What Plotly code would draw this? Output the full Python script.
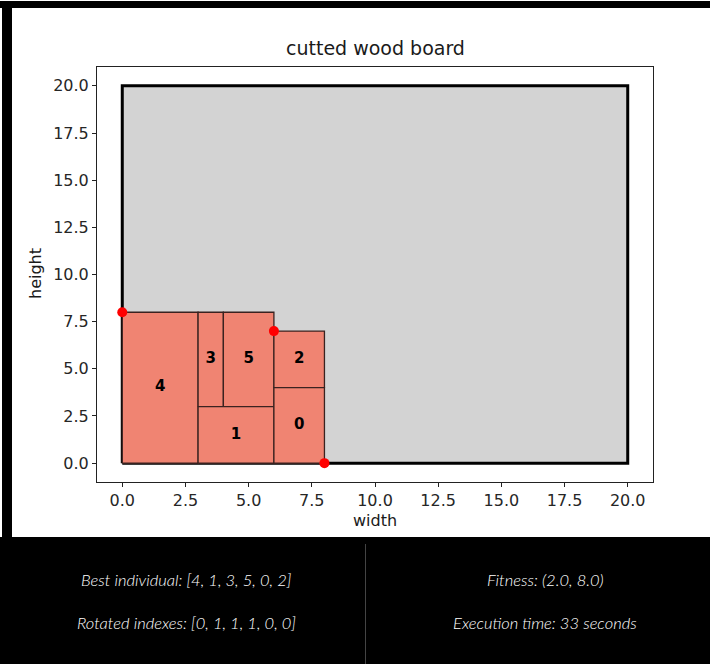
import plotly.graph_objects as go

# ---------------- data ----------------
board_width = 20
board_height = 20
piece_ids = [4, 3, 5, 1, 2, 0]
piece_x = [0, 3, 4, 3, 6, 6]
piece_y = [0, 3, 3, 0, 4, 0]
piece_w = [3, 1, 2, 3, 2, 2]
piece_h = [8, 5, 5, 3, 3, 4]
corner_x = [0, 6, 8]
corner_y = [8, 7, 0]
x_ticks = [0.0, 2.5, 5.0, 7.5, 10.0, 12.5, 15.0, 17.5, 20.0]
y_ticks = [0.0, 2.5, 5.0, 7.5, 10.0, 12.5, 15.0, 17.5, 20.0]
info_left = ["Best individual: [4, 1, 3, 5, 0, 2]", "Rotated indexes: [0, 1, 1, 1, 0, 0]"]
info_right = ["Fitness: (2.0, 8.0)", "Execution time: 33 seconds"]

# ---------------- layout geometry ----------------
W, H = 710, 664
L, R, T, B = 97, 653, 67, 482


def px(xp):
    return (xp - L) / (R - L)


def py(yp):
    return (B - yp) / (B - T)


fig = go.Figure()

# board
fig.add_trace(go.Scatter(
    x=[0, board_width, board_width, 0, 0],
    y=[0, 0, board_height, board_height, 0],
    mode="lines", fill="toself", fillcolor="#d3d3d3",
    line=dict(color="black", width=3), hoverinfo="skip", showlegend=False))

# pieces
for pid, x0, y0, w, h in zip(piece_ids, piece_x, piece_y, piece_w, piece_h):
    fig.add_trace(go.Scatter(
        x=[x0, x0 + w, x0 + w, x0, x0],
        y=[y0, y0, y0 + h, y0 + h, y0],
        mode="lines", fill="toself", fillcolor="#f08472",
        line=dict(color="#3a2220", width=1.3), hoverinfo="skip", showlegend=False))

# piece labels
fig.add_trace(go.Scatter(
    x=[x0 + w / 2 for x0, w in zip(piece_x, piece_w)],
    y=[y0 + h / 2 for y0, h in zip(piece_y, piece_h)],
    mode="text", text=[f"<b>{p}</b>" for p in piece_ids],
    textfont=dict(family="DejaVu Sans", size=15, color="black"),
    hoverinfo="skip", showlegend=False))

# corner points
fig.add_trace(go.Scatter(
    x=corner_x, y=corner_y, mode="markers",
    marker=dict(color="red", size=10, line=dict(width=0)),
    hoverinfo="skip", showlegend=False, cliponaxis=False))

axis_common = dict(
    range=[-1, 21], showgrid=False, zeroline=False,
    showline=True, mirror=True, linecolor="#222", linewidth=1,
    ticks="outside", ticklen=4, tickcolor="#222", tickwidth=1,
    tickfont=dict(family="DejaVu Sans", size=16, color="#262626"),
)
fig.update_xaxes(**axis_common, tickvals=x_ticks, ticktext=[f"{v:.1f}" for v in x_ticks])
fig.update_yaxes(**axis_common, tickvals=y_ticks, ticktext=[f"{v:.1f}" for v in y_ticks])

shapes = [
    # top black band
    dict(type="rect", xref="paper", yref="paper", x0=px(0), x1=px(W), y0=py(8), y1=py(1),
         fillcolor="black", line=dict(width=0), layer="above"),
    # left black band
    dict(type="rect", xref="paper", yref="paper", x0=px(2), x1=px(12), y0=py(H), y1=py(1),
         fillcolor="black", line=dict(width=0), layer="above"),
    # bottom panel
    dict(type="rect", xref="paper", yref="paper", x0=px(0), x1=px(W), y0=py(H + 2), y1=py(537),
         fillcolor="black", line=dict(width=0), layer="above"),
    # divider
    dict(type="line", xref="paper", yref="paper", x0=px(365.5), x1=px(365.5), y0=py(H + 2), y1=py(544),
         line=dict(color="#444", width=1), layer="above"),
]

annotations = [
    dict(text="cutted wood board", xref="paper", yref="paper", x=px(375), y=py(48),
         showarrow=False, font=dict(family="DejaVu Sans", size=19, color="#1a1a1a"),
         xanchor="center", yanchor="middle"),
    dict(text="width", xref="paper", yref="paper", x=px(375), y=py(520),
         showarrow=False, font=dict(family="DejaVu Sans", size=16, color="#1a1a1a"),
         xanchor="center", yanchor="middle"),
    dict(text="height", xref="paper", yref="paper", x=px(35), y=py(274),
         showarrow=False, textangle=-90, font=dict(family="DejaVu Sans", size=16, color="#1a1a1a"),
         xanchor="center", yanchor="middle"),
]
info_font = dict(family="Lato", size=16.5, color="white", style="italic", weight=300)
for txt, yp in zip(info_left, [580, 623]):
    annotations.append(dict(text=txt, xref="paper", yref="paper", x=px(186), y=py(yp),
                            showarrow=False, font=info_font, xanchor="center", yanchor="middle"))
for txt, yp in zip(info_right, [580, 623]):
    annotations.append(dict(text=txt, xref="paper", yref="paper", x=px(545), y=py(yp),
                            showarrow=False, font=info_font, xanchor="center", yanchor="middle"))

fig.update_layout(
    width=W, height=H,
    margin=dict(l=L, r=W - R, t=T, b=H - B, pad=0),
    paper_bgcolor="white", plot_bgcolor="white",
    shapes=shapes, annotations=annotations,
    showlegend=False,
)

fig.write_html("out.html")
